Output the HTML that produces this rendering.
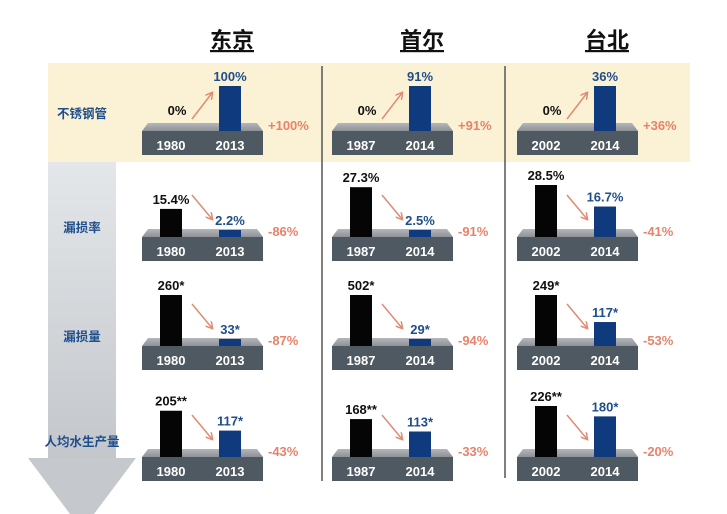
<!DOCTYPE html>
<html><head><meta charset="utf-8">
<style>
body{margin:0;background:#fff;}
svg{display:block;font-family:"Liberation Sans","Noto Sans CJK SC",sans-serif;}
</style></head>
<body>
<svg id="chart" width="727" height="514" viewBox="0 0 727 514" xmlns="http://www.w3.org/2000/svg">
<defs>
<linearGradient id="arrowGrad" x1="0" y1="0" x2="0" y2="1">
<stop offset="0" stop-color="#e4e7ea"/><stop offset="1" stop-color="#c3c6ca"/>
</linearGradient>
<linearGradient id="faceGrad" x1="0" y1="0" x2="0" y2="1">
<stop offset="0" stop-color="#b4b7bb"/><stop offset="1" stop-color="#8e9297"/>
</linearGradient>
<marker id="ah" markerWidth="8" markerHeight="8" refX="6" refY="4" orient="auto" markerUnits="userSpaceOnUse">
<path d="M0,0 L7,4 L0,8" fill="none" stroke="#e08b74" stroke-width="1.5"/>
</marker>
</defs>
<rect x="48" y="63" width="642" height="99" fill="#fbf2d6"/>
<g>
<rect x="48" y="162" width="68" height="298" fill="url(#arrowGrad)"/>
<polygon points="28,458 136,458 82,530" fill="#c5c8cc"/>
</g>
<line x1="322" y1="66" x2="322" y2="481" stroke="#555" stroke-width="1.5"/>
<line x1="505" y1="66" x2="505" y2="478" stroke="#555" stroke-width="1.5"/>
<g id="content"></g>
</svg>
<script>
const cities = ["东京","首尔","台北"];
const metrics = ["不锈钢管","漏损率","漏损量","人均水生产量"];
const yearsOld = ["1980","1987","2002"];
const yearsNew = ["2013","2014","2014"];
const oldValues = [[0,0,0],[15.4,27.3,28.5],[260,502,249],[205,168,226]];
const newValues = [[100,91,36],[2.2,2.5,16.7],[33,29,117],[117,113,180]];
const oldLabels = [["0%","0%","0%"],["15.4%","27.3%","28.5%"],["260*","502*","249*"],["205**","168**","226**"]];
const newLabels = [["100%","91%","36%"],["2.2%","2.5%","16.7%"],["33*","29*","117*"],["117*","113*","180*"]];
const changeLabels = [["+100%","+91%","+36%"],["-86%","-91%","-41%"],["-87%","-94%","-53%"],["-43%","-33%","-20%"]];
const perCellScale = [true,false,true,false];

const NS="http://www.w3.org/2000/svg";
const g=document.getElementById('content');
function el(t,a,txt){const e=document.createElementNS(NS,t);for(const k in a)e.setAttribute(k,a[k]);if(txt!=null)e.textContent=txt;g.appendChild(e);return e;}

const colX=[142,332,517];
const rowTop=[123,229,338,449];
const rowLabelY=[113,227,336,441];
const maxH=[45,52,51,51];
function barH(r,c,v){
  const m=perCellScale[r]?Math.max(oldValues[r][c],newValues[r][c]):Math.max(...oldValues[r],...newValues[r]);
  if(v<=0)return 0;return Math.max(7,v/m*maxH[r]);}

cities.forEach((c,ci)=>{
  const t=el('text',{x:colX[ci]+90,y:48,'text-anchor':'middle','font-size':22,'font-weight':'bold',fill:'#111','text-decoration':'underline'},c);
  
  
});
metrics.forEach((m,ri)=>{
  const t=el('text',{x:82,y:rowLabelY[ri]+5,'text-anchor':'middle','font-size':12.5,'font-weight':'bold',fill:'#1f4e8c'},m);
  
  
});
metrics.forEach((m,ri)=>{
  cities.forEach((c,ci)=>{
    const x0=colX[ci], y0=rowTop[ri];
    const face=el('polygon',{points:`${x0+6},${y0} ${x0+115},${y0} ${x0+121},${y0+8} ${x0},${y0+8}`,fill:'url(#faceGrad)'});
    
    
    const base=el('rect',{x:x0,y:y0+8,width:121,height:24,fill:'#4f5961'});
    
    
    const bx1=x0+18, bx2=x0+77, bw=22, by=y0+8;
    const h1=barH(ri,ci,oldValues[ri][ci]), h2=barH(ri,ci,newValues[ri][ci]);
    if(h1>0){const b=el('rect',{x:bx1,y:by-h1,width:bw,height:h1,fill:'#050505'});
      
      }
    const b2=el('rect',{x:bx2,y:by-h2,width:bw,height:h2,fill:'#0f3a7d'});
    
    
    const lo=el('text',{x:bx1+bw/2+(h1>0?0:6),y:(h1>0?by-h1-5:by-16),'text-anchor':'middle','font-size':13,'font-weight':'bold',fill:'#111'},oldLabels[ri][ci]);
    
    
    const ln=el('text',{x:bx2+bw/2,y:by-h2-5,'text-anchor':'middle','font-size':13,'font-weight':'bold',fill:'#1f4e8c'},newLabels[ri][ci]);
    
    
    const up=newValues[ri][ci]>oldValues[ri][ci];
    const ay=y0-4;
    const ar=el('line',up?{x1:bx1+32,y1:ay,x2:bx1+52,y2:ay-26}:{x1:bx1+32,y1:ay-30,x2:bx1+52,y2:ay-6},{});
    ar.setAttribute('stroke','#e08b74');ar.setAttribute('stroke-width','1.5');ar.setAttribute('marker-end','url(#ah)');
    
    
    const y1=el('text',{x:bx1+bw/2,y:y0+27,'text-anchor':'middle','font-size':13,'font-weight':'bold',fill:'#fff'},yearsOld[ci]);
    
    
    const y2=el('text',{x:bx2+bw/2,y:y0+27,'text-anchor':'middle','font-size':13,'font-weight':'bold',fill:'#fff'},yearsNew[ci]);
    
    
    const cl=el('text',{x:x0+126,y:y0+7,'font-size':13,'font-weight':'bold',fill:'#e8826a'},changeLabels[ri][ci]);
    
    
  });
});
</script>
</body></html>
